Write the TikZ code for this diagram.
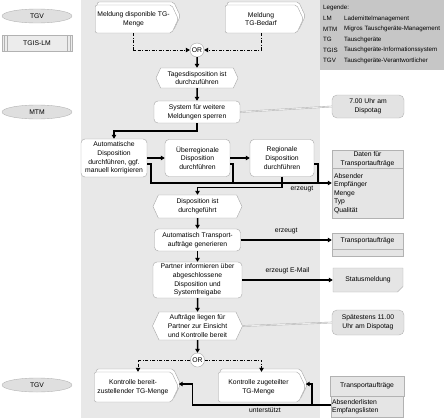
\documentclass[tikz,border=0pt]{standalone}
\usepackage{fontspec}
\setmainfont{Liberation Sans}
\usetikzlibrary{arrows.meta, positioning, shapes.geometric, shapes.symbols, shapes.misc, shadows}
\tikzset{
  every node/.style={font=\fontsize{6.8}{8.6}\selectfont},
  role/.style={ellipse, draw=gray!60, fill=gray!25, minimum width=70pt, minimum height=14pt, inner sep=0pt},
  sysbox/.style={rectangle, draw=gray!60, fill=gray!15, minimum width=70pt, minimum height=16pt, inner sep=0pt},
  event/.style={signal, signal to=east and west, signal pointer angle=130, draw=gray!70, fill=white, align=center, inner sep=1pt},
  func/.style={rectangle, rounded corners=4pt, draw=gray!70, fill=white, align=center, inner sep=1pt},
  iface/.style={signal, signal to=east, signal pointer angle=130, rounded corners=2pt, draw=gray!70, fill=white, align=center, inner sep=1pt,
    copy shadow={shadow xshift=2pt, shadow yshift=3pt, draw=gray!70, fill=white}},
  orgate/.style={circle, draw=gray!70, fill=white, minimum size=14pt, inner sep=0pt},
  note/.style={rectangle, rounded corners=5pt, draw=gray!60, fill=gray!22, align=center, inner sep=1pt},
  datahead/.style={rectangle, draw=gray!60, fill=gray!20, align=center, inner sep=1pt},
  databody/.style={rectangle, draw=gray!60, fill=gray!20, align=left, inner sep=2pt},
  flow/.style={line width=1.5pt, -{Triangle[length=4pt, width=4.5pt]}},
  bus/.style={line width=1.5pt},
  orflow/.style={line width=0.8pt, dash pattern=on 3pt off 1.5pt on 1pt off 1.5pt, -{Triangle[length=4pt, width=4.5pt]}},
  notelink/.style={draw=gray!60, double=gray!15, double distance=0.8pt},
  legtxt/.style={anchor=west, inner sep=0pt, font=\fontsize{6.2}{7}\selectfont},
  lbl/.style={inner sep=0pt}
}

\begin{document}
\begin{tikzpicture}[x=1pt, y=-1pt]
\useasboundingbox (0,0) rectangle (444,418);
%% lane and legend
  \fill[gray!18] (81,0) rectangle (320,418);
  \fill[gray!45] (320,0) rectangle (444,70);
  \node[legtxt] (leg) at (323,8) {Legende:};
  \node[legtxt] (abLM) at (323,18.5) {LM};
  \node[legtxt] (txLM) at (344,18.5) {Lademittelmanagement};
  \node[legtxt] (abMTM) at (323,29) {MTM};
  \node[legtxt] (txMTM) at (344,29) {Migros Tauschgeräte-Management};
  \node[legtxt] (abTG) at (323,39.5) {TG};
  \node[legtxt] (txTG) at (344,39.5) {Tauschgeräte};
  \node[legtxt] (abTGIS) at (323,50) {TGIS};
  \node[legtxt] (txTGIS) at (344,50) {Tauschgeräte-Informationssystem};
  \node[legtxt] (abTGV) at (323,60.5) {TGV};
  \node[legtxt] (txTGV) at (344,60.5) {Tauschgeräte-Verantwortlicher};
%% roles
  \node[role] (tgvA) at (37,16) {TGV};
  \node[sysbox] (tgis) at (37,43) {TGIS-LM};
  \draw[gray!60] ([xshift=2.5pt]tgis.north west) -- ([xshift=2.5pt]tgis.south west);
  \draw[gray!60] ([xshift=5pt]tgis.north west) -- ([xshift=5pt]tgis.south west);
  \draw[gray!60] ([xshift=-2.5pt]tgis.north east) -- ([xshift=-2.5pt]tgis.south east);
  \draw[gray!60] ([xshift=-5pt]tgis.north east) -- ([xshift=-5pt]tgis.south east);
  \node[role] (mtm) at (37,112) {MTM};
  \node[role] (tgvB) at (37,385) {TGV};
%% start
  \node[iface, minimum width=83pt, minimum height=28pt] (mdisp) at (133.5,19) {Meldung disponible TG-\\Menge};
  \node[iface, minimum width=78pt, minimum height=28pt] (mbed) at (261,19) {Meldung\\TG-Bedarf};
  \node[orgate] (or1) at (197,50) {OR};
  \draw[orflow] (mdisp.south) |- (or1.west);
  \draw[orflow] (mbed.south) |- (or1.east);
  \node[event, minimum width=82pt, minimum height=20pt] (ev1) at (197,78) {Tagesdisposition ist\\durchzuführen};
  \node[func, minimum width=86pt, minimum height=22pt] (f1) at (197,112) {System für weitere\\Meldungen sperren};
  \node[note, minimum width=72pt, minimum height=23pt] (note1) at (368,106.5) {7.00 Uhr am\\Dispotag};
  \draw[flow] (or1) -- (ev1);
  \draw[flow] (ev1) -- (f1);
  \draw[notelink] (f1.east) -- (note1.west);
%% dispositions
  \node[func, minimum width=66pt, minimum height=38pt] (f2) at (114,158) {Automatische\\Disposition\\durchführen, ggf.\\manuell korrigieren};
  \node[func, minimum width=65pt, minimum height=37pt] (f3) at (197.5,158) {Überregionale\\Disposition\\durchführen};
  \node[func, minimum width=64pt, minimum height=37pt] (f4) at (282,158) {Regionale\\Disposition\\durchführen};
  \node[datahead, minimum width=71pt, minimum height=18pt] (datenh) at (367.5,159) {Daten für\\Transportaufträge};
  \node[databody, text width=67pt, minimum height=50pt, below=0pt of datenh] (datenb) {Absender\\Empfänger\\Menge\\Typ\\Qualität};
  \coordinate (bus) at (0,183);
  \draw[flow] (f1.south) -- ++(0,8) -| (f2.north);
  \draw[flow] (f2) -- (f3);
  \draw[flow] (f3) -- (f4);
  \draw[flow] ([yshift=-6pt]f2.east) -- ++(4,0) |- (datenb.west |- bus);
  \draw[bus] ([yshift=-6pt]f3.east) -| ([xshift=3pt]f3.east |- bus);
  \draw[bus] ([yshift=-6pt]f4.east) -| ([xshift=4pt]f4.east |- bus);
  \node[lbl] (erz1) at (302,189.5) {erzeugt};
%% results
  \node[event, minimum width=89pt, minimum height=23pt] (ev2) at (197.5,206.5) {Disposition ist\\durchgeführt};
  \draw[flow] (f4.south) -- ++(0,11) -| (ev2.north);
  \node[func, minimum width=86pt, minimum height=22pt] (f5) at (197.5,240) {Automatisch Transport-\\aufträge generieren};
  \node[datahead, minimum width=71pt, minimum height=16pt] (ta1h) at (367.5,241) {Transportaufträge};
  \node[databody, minimum width=71pt, minimum height=7pt, inner sep=0pt, below=0pt of ta1h] (ta1b) {};
  \draw[flow] (ev2) -- (f5);
  \draw[flow] (f5.east) -- node[above=2pt] (erz2) {erzeugt} (f5.east -| ta1h.west);
  \node[func, minimum width=89pt, minimum height=36pt] (f6) at (197.5,280) {Partner informieren über\\abgeschlossene\\Disposition und\\Systemfreigabe};
  \node[chamfered rectangle, chamfered rectangle corners=south east, chamfered rectangle xsep=2pt, draw=gray!60, fill=gray!20,
    minimum width=70pt, minimum height=24pt, inner sep=1pt] (status) at (368,280) {Statusmeldung};
  \draw[flow] (f5) -- (f6);
  \draw[flow] (f6.east) -- node[above=2pt] (erz3) {erzeugt E-Mail} (status.west);
  \node[event, minimum width=90pt, minimum height=28pt] (ev3) at (197.5,326) {Aufträge liegen für\\Partner zur Einsicht\\und Kontrolle bereit};
  \node[note, minimum width=72pt, minimum height=25pt] (note2) at (368,322.5) {Spätestens 11.00\\Uhr am Dispotag};
  \draw[flow] (f6) -- (ev3);
  \draw[notelink] (ev3.east) -- (note2.west);
%% control
  \node[orgate] (or2) at (197.5,360) {OR};
  \draw[flow] (ev3) -- (or2);
  \node[iface, minimum width=84pt, minimum height=30pt] (k1) at (133,387) {Kontrolle bereit-\\zustellender TG-Menge};
  \node[iface, minimum width=87pt, minimum height=30pt] (k2) at (258.5,387) {Kontrolle zugeteilter\\TG-Menge};
  \draw[orflow] (or2.west) -| ([xshift=5pt]k1.north);
  \draw[orflow] (or2.east) -| ([xshift=3pt]k2.north);
  \node[datahead, minimum width=74pt, minimum height=20pt] (ta2h) at (367,386) {Transportaufträge};
  \node[databody, text width=70pt, minimum height=21pt, inner sep=1pt, below=0pt of ta2h] (ta2b) {Absenderlisten\\Empfangslisten};
  \draw[flow] ([yshift=2pt]ta2b.west) -- ++(-19,0) |- ([yshift=3pt]k2.east);
  \draw[flow] ([yshift=2pt]ta2b.west) -- ([xshift=14pt,yshift=2pt]k1.east |- ta2b.west) |- ([yshift=3pt]k1.east);
  \node[lbl] (unt) at (265,410) {unterstützt};
\end{tikzpicture}
\end{document}
